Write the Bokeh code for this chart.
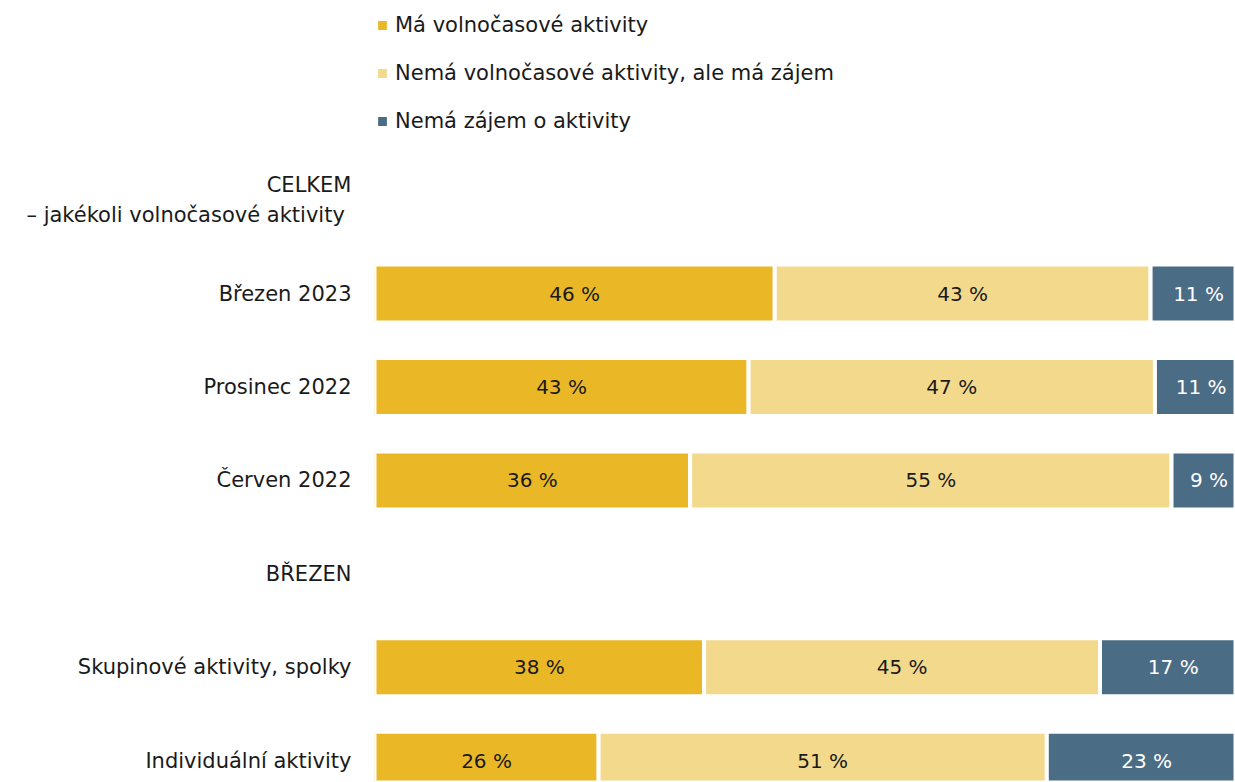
import numpy as np
from bokeh.plotting import figure
from bokeh.models import ColumnDataSource, Range1d, FixedTicker, Legend
from bokeh.core.properties import value
from bokeh.embed import file_html
from bokeh.resources import INLINE

# ---- data ----
categories = [
    "CELKEM\n – jakékoli volnočasové aktivity",
    "Březen 2023",
    "Prosinec 2022",
    "Červen 2022",
    "BŘEZEN",
    "Skupinové aktivity, spolky",
    "Individuální aktivity",
]
bar_rows = ["Březen 2023", "Prosinec 2022", "Červen 2022",
            "Skupinové aktivity, spolky", "Individuální aktivity"]
series_names = ["Má volnočasové aktivity",
                "Nemá volnočasové aktivity, ale má zájem",
                "Nemá zájem o aktivity"]
ma_aktivity = [45.9, 42.9, 36.2, 37.8, 25.7]
ma_zajem = [43.1, 46.6, 55.2, 45.4, 51.4]
nema_zajem = [11.0, 10.6, 8.6, 16.8, 22.9]

colors = ["#EAB826", "#F3D98C", "#4B6C85"]
text_colors = ["#1a1a1a", "#1a1a1a", "#ffffff"]
FONT = "DejaVu Sans"
FS = "21px"
FS_BAR = "20px"

# ---- figure ----
W, H = 1235, 782
frame_left_px = 374
px_per_unit = 8.72
x_end = (W - frame_left_px) / px_per_unit
row_px = 93.46
y_top = 1 - 293 / row_px
y_bottom = 1 + (H - 293) / row_px

p = figure(width=W, height=H, output_backend="svg", toolbar_location=None,
           x_range=Range1d(0, x_end), y_range=Range1d(y_bottom, y_top),
           x_axis_location=None, min_border_left=frame_left_px,
           min_border_right=0, min_border_top=0, min_border_bottom=0)
p.outline_line_color = None
p.xgrid.visible = False
p.ygrid.visible = False
p.background_fill_color = "white"
p.border_fill_color = "white"

ys = [categories.index(r) for r in bar_rows]
src = ColumnDataSource(dict(y=ys, a=ma_aktivity, b=ma_zajem, c=nema_zajem))
rends = p.hbar_stack(["a", "b", "c"], y="y", height=0.62, color=colors,
                     line_color="white", line_width=4, source=src)

# segment labels
stack = np.column_stack([ma_aktivity, ma_zajem, nema_zajem])
right = np.cumsum(stack, axis=1)
left = right - stack
lx, ly, lt, lc = [], [], [], []
for i, yv in enumerate(ys):
    for j in range(3):
        lx.append((left[i, j] + right[i, j]) / 2)
        ly.append(yv)
        lt.append(f"{int(stack[i, j] + 0.5)} %")
        lc.append(text_colors[j])
tsrc = ColumnDataSource(dict(x=lx, y=ly, t=lt, c=lc))
p.text(x="x", y="y", text="t", text_color="c", source=tsrc,
       text_align="center", text_baseline="middle",
       text_font=value(FONT), text_font_size=FS_BAR)

# y axis labels (all categories, incl. the multi-line header)
tick_rows = list(range(len(categories)))
p.yaxis.ticker = FixedTicker(ticks=tick_rows)
p.yaxis.major_label_overrides = {i: categories[i] for i in tick_rows}
p.yaxis.axis_line_color = None
p.yaxis.major_tick_line_color = None
p.yaxis.minor_tick_line_color = None
p.yaxis.major_tick_out = 0
p.yaxis.major_tick_in = 0
p.yaxis.major_label_standoff = 23
p.yaxis.major_label_text_font = FONT
p.yaxis.major_label_text_font_size = FS
p.yaxis.major_label_text_color = "#1a1a1a"
p.yaxis.major_label_text_line_height = 1.27

legend = Legend(items=[(n, [r]) for n, r in zip(series_names, rends)],
                location=(0, H - 136), orientation="vertical",
                margin=0, padding=0, spacing=18,
                glyph_width=16, glyph_height=16, label_height=30,
                label_standoff=5, border_line_color=None,
                background_fill_alpha=0,
                label_text_font=FONT, label_text_font_size=FS,
                label_text_color="#1a1a1a")
p.add_layout(legend)

open("out.html", "w").write(file_html(p, INLINE))
